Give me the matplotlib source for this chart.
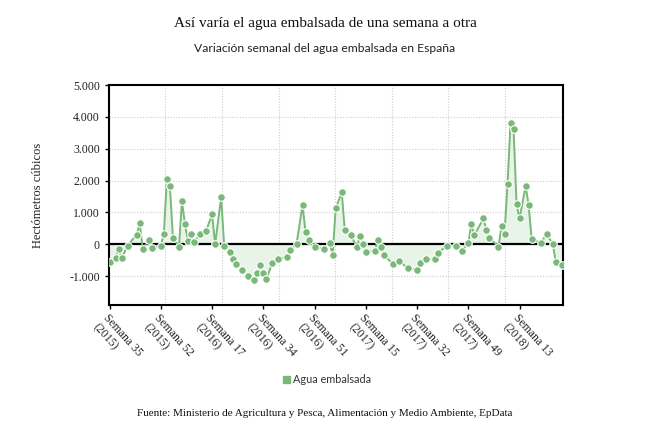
import matplotlib
matplotlib.use("Agg")
import matplotlib.pyplot as plt
import numpy as np
from matplotlib.patches import Rectangle

# ---- data ----
week_index = [0, 2, 3, 4, 6, 9, 10, 11, 13, 14, 17, 18, 19, 20, 21, 23, 24, 25, 26, 27, 28,
              30, 32, 34, 35, 37, 38, 40, 41, 42, 44, 46, 48, 49, 50, 51, 52, 54, 56, 59, 60,
              62, 64, 65, 66, 68, 71, 73, 74, 75, 77, 78, 80, 82, 83, 84, 85, 88, 89, 90, 91,
              94, 96, 99, 102, 103, 105, 108, 109, 112, 115, 117, 119, 120, 121, 124, 125, 126,
              129, 130, 131, 132, 133, 134, 135, 136, 138, 139, 140, 143, 145, 147, 148, 150]
agua_embalsada = [-566, -419, -157, -440, -42, 304, 660, -157, 136, -115, -42, 335, 2054, 1813,
                  210, -94, 1352, 629, 115, 335, 73, 314, 419, 933, 0, 1478, -42, -231, -461,
                  -629, -797, -1006, -1122, -891, -639, -891, -1100, -577, -451, -409, -189, 0,
                  1230, 377, 136, -90, -147, 47, -335, 1127, 1635, 445, 300, -100, 247, 15, -231,
                  -220, 120, -73, -340, -625, -524, -760, -807, -592, -472, -477, -268, -47, -42,
                  -199, 31, 629, 283, 807, 440, 199, -84, 556, 335, 1897, 3805, 3606, 1247, 807,
                  1834, 1226, 168, 42, 314, 10, -545, -660]
tick_index = [0, 17, 34, 51, 68, 85, 102, 119, 136]
tick_labels = ["Semana 35\n(2015)", "Semana 52\n(2015)", "Semana 17\n(2016)", "Semana 34\n(2016)",
               "Semana 51\n(2016)", "Semana 15\n(2017)", "Semana 32\n(2017)", "Semana 49\n(2017)",
               "Semana 13\n(2018)"]
y_ticks = [-1000, 0, 1000, 2000, 3000, 4000, 5000]
y_labels = ["-1.000", "0", "1.000", "2.000", "3.000", "4.000", "5.000"]

GREEN = "#79b879"
SERIF = "Liberation Serif"
SANS = "Lato"

fig = plt.figure(figsize=(6.5, 4.38), dpi=100)
ax = fig.add_axes([109/650, 1-305/438, (563-109)/650, (305-85)/438])

x = np.array(week_index)
y = np.array(agua_embalsada)
ax.fill_between(x, y, 0, color="#e9f4e9", zorder=1, linewidth=0)
ax.plot(x, y, color=GREEN, lw=1.4, zorder=3)
ax.plot(x, y, 'o', color=GREEN, ms=5.5, mec="white", mew=0.8, zorder=4)
ax.axhline(0, color="black", lw=1.6, zorder=2)

ax.set_xlim(-0.2, 150.4)
ax.set_ylim(-1910, 5000)

# grid
for gx in np.arange(18.5, 150, 18.78):
    ax.axvline(gx, color="#cccccc", lw=0.8, ls=(0, (1, 1.5)), zorder=0)
for gy in [-1000, 1000, 2000, 3000, 4000]:
    ax.axhline(gy, color="#cccccc", lw=0.8, ls=(0, (1, 1.5)), zorder=0)

ax.set_yticks(y_ticks)
ax.set_yticklabels(y_labels, fontfamily=SERIF, fontsize=8.5, color="#222222")
ax.set_xticks(tick_index)
ax.set_xticklabels(tick_labels, fontfamily=SERIF, fontsize=8.5, color="#222222",
                   rotation=-48, ha="left", va="top", rotation_mode="anchor")
ax.tick_params(axis="both", length=3, width=1, color="black")
ax.tick_params(axis="x", pad=2)
for s in ax.spines.values():
    s.set_linewidth(1.5)
    s.set_color("black")

ax.set_ylabel("Hectómetros cúbicos", fontfamily=SERIF, fontsize=9, color="#222222", labelpad=18)

fig.text(0.5, 1-24/438, "Así varía el agua embalsada de una semana a otra",
         fontfamily=SERIF, fontsize=11, ha="center", va="center", color="#111111")
fig.text(0.5, 1-48/438, "Variación semanal del agua embalsada en España",
         fontfamily=SANS, fontsize=8.7, ha="center", va="center", color="#222222")

# legend
fig.patches.append(Rectangle((283/650, 1-383/438), 7/650, 7/438, transform=fig.transFigure,
                             color=GREEN, figure=fig))
fig.text(293/650, 1-379.5/438, "Agua embalsada", fontfamily=SANS, fontsize=7.8,
         ha="left", va="center", color="#333333")

fig.text(0.5, 1-414/438,
         "Fuente: Ministerio de Agricultura y Pesca, Alimentación y Medio Ambiente, EpData",
         fontfamily=SERIF, fontsize=8, ha="center", va="center", color="#111111")

fig.savefig("out.png", dpi=100)
